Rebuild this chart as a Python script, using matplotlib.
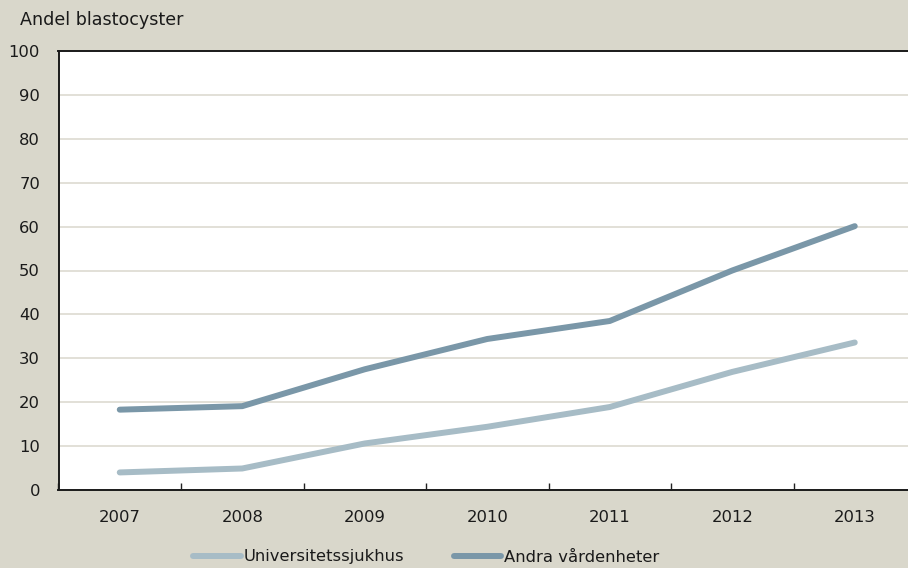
import matplotlib
matplotlib.use("Agg")
import matplotlib.pyplot as plt
import numpy as np

years = ["2007", "2008", "2009", "2010", "2011", "2012", "2013"]
universitet = [4.0, 4.9, 10.6, 14.4, 18.9, 26.9, 33.6]
andra = [18.3, 19.1, 27.5, 34.4, 38.5, 50.0, 60.1]
series_names = ["Universitetssjukhus", "Andra vårdenheter"]
yticks = [0, 10, 20, 30, 40, 50, 60, 70, 80, 90, 100]

bg = "#d9d7cb"
c_univ = "#a7bcc6"
c_andra = "#7a97a8"
fs = 11.8
plt.rcParams['font.family'] = ['DejaVu Sans']

fig = plt.figure(figsize=(9.08, 5.68), dpi=100, facecolor=bg)
W, H = 908, 568
left, right, top, bottom = 58.5, 916, 51, 490
ax = fig.add_axes([left / W, 1 - bottom / H, (right - left) / W, (bottom - top) / H])
ax.set_facecolor("white")

x = np.arange(len(years))
ax.plot(x, universitet, color=c_univ, lw=4.3, solid_capstyle='round', label=series_names[0], zorder=3)
ax.plot(x, andra, color=c_andra, lw=4.3, solid_capstyle='round', label=series_names[1], zorder=3)

ax.set_xlim(-0.5, len(years) - 0.5)
ax.set_ylim(0, 100)
ax.set_yticks(yticks)
ax.set_yticklabels([str(v) for v in yticks], fontsize=fs, color="#1a1a1a")
ax.tick_params(axis='y', length=0, pad=13.3)
ax.set_xticks(x)
ax.set_xticklabels(years, fontsize=fs, color="#1a1a1a")
ax.set_xticks(np.arange(len(years) + 1) - 0.5, minor=True)
ax.tick_params(axis='x', which='major', length=0, pad=14.5)
ax.tick_params(axis='x', which='minor', length=5, direction='in', width=1, color="#222222")
ax.grid(axis='y', color="#e2e0d7", lw=1.4, zorder=0)
ax.set_axisbelow(True)
for s in ['left', 'bottom', 'top']:
    ax.spines[s].set_color("#1a1a1a")
    ax.spines[s].set_linewidth(1.4)
ax.spines['right'].set_visible(False)

fig.text(20 / W, 1 - 20 / H, "Andel blastocyster", fontsize=12.6, color="#1a1a1a", va='center', ha='left')

leg = fig.legend(loc='center left', bbox_to_anchor=(193 / W, 1 - 557 / H), ncol=2, frameon=False,
                 fontsize=fs, handlelength=2.9, handletextpad=0.2, columnspacing=3.0,
                 borderaxespad=0, borderpad=0)
for t in leg.get_texts():
    t.set_color("#1a1a1a")

fig.savefig("out.png", dpi=100, facecolor=bg)
